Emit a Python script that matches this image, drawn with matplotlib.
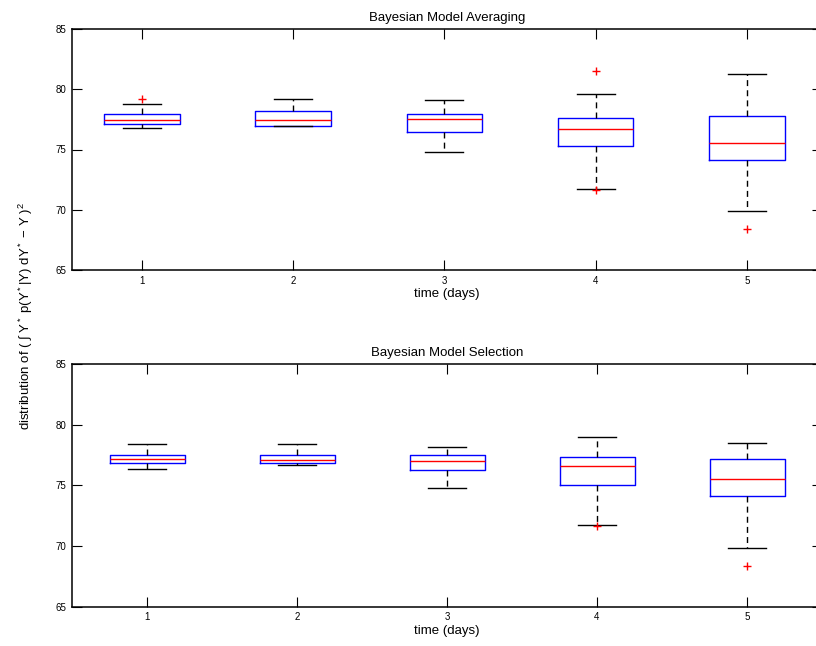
import matplotlib
matplotlib.use('Agg')
import matplotlib.pyplot as plt

plt.rcParams['font.family'] = ['Liberation Sans', 'DejaVu Sans']
plt.rcParams['mathtext.fontset'] = 'custom'
plt.rcParams['mathtext.rm'] = 'Liberation Sans'
plt.rcParams['mathtext.it'] = 'Liberation Sans'

days = [1, 2, 3, 4, 5]

# Bayesian Model Averaging
bma_whislo = [76.76, 76.93, 74.82, 71.72, 69.90]
bma_q1 = [77.14, 76.95, 76.48, 75.29, 74.13]
bma_med = [77.42, 77.42, 77.50, 76.68, 75.57]
bma_q3 = [77.95, 78.20, 77.97, 77.64, 77.78]
bma_whishi = [78.78, 79.16, 79.08, 79.58, 81.27]
bma_fliers = [[79.22], [], [], [81.49, 71.64], [68.38]]

# Bayesian Model Selection
bms_whislo = [76.36, 76.72, 74.79, 71.71, 69.87]
bms_q1 = [76.86, 76.88, 76.25, 75.07, 74.13]
bms_med = [77.16, 77.08, 77.05, 76.58, 75.51]
bms_q3 = [77.54, 77.54, 77.52, 77.32, 77.21]
bms_whishi = [78.40, 78.40, 78.20, 79.03, 78.51]
bms_fliers = [[], [], [], [71.66], [68.38]]


def make_stats(lo, q1, med, q3, hi, fl):
    stats = []
    for i in range(len(med)):
        stats.append({'whislo': lo[i], 'q1': q1[i], 'med': med[i],
                      'q3': q3[i], 'whishi': hi[i], 'fliers': fl[i]})
    return stats


def draw(ax, stats, title, xlim):
    ax.bxp(stats, positions=days, widths=0.5, capwidths=0.25,
           boxprops=dict(color='blue', linewidth=1.0),
           medianprops=dict(color='red', linewidth=1.0),
           whiskerprops=dict(color='black', linewidth=1.0, linestyle=(0, (4.3, 3))),
           capprops=dict(color='black', linewidth=1.0),
           flierprops=dict(marker='+', markeredgecolor='red', markersize=6,
                           markeredgewidth=1.0, linestyle='none'))
    ax.set_xlim(xlim)
    ax.set_ylim(65, 85)
    ax.set_yticks([65, 70, 75, 80, 85])
    ax.set_xticks(days)
    ax.set_xticklabels([str(d) for d in days])
    ax.tick_params(direction='in', length=7, width=0.8, labelsize=7,
                   top=True, right=True, pad=4)
    for s in ax.spines.values():
        s.set_linewidth(1.1)
    ax.set_title(title, fontsize=9.5, pad=6)
    ax.set_xlabel('time (days)', fontsize=9.5, labelpad=2)


fig = plt.figure(figsize=(8.16, 6.46), dpi=100)
ax1 = fig.add_axes([72 / 816, 1 - 270 / 646, 750 / 816, 241 / 646])
ax2 = fig.add_axes([72 / 816, 1 - 606.7 / 646, 750 / 816, 242.4 / 646])

draw(ax1, make_stats(bma_whislo, bma_q1, bma_med, bma_q3, bma_whishi, bma_fliers),
     'Bayesian Model Averaging', (0.539, 5.496))
draw(ax2, make_stats(bms_whislo, bms_q1, bms_med, bms_q3, bms_whishi, bms_fliers),
     'Bayesian Model Selection', (0.5, 5.5))

fig.text(26 / 816, 1 - 316 / 646,
         'distribution of ( \u222b Y$^*$ p(Y$^*$|Y) dY$^*$ \u2212 Y )$^2$',
         rotation=90, ha='center', va='center', fontsize=9.5)

fig.savefig('out.png', dpi=100)
